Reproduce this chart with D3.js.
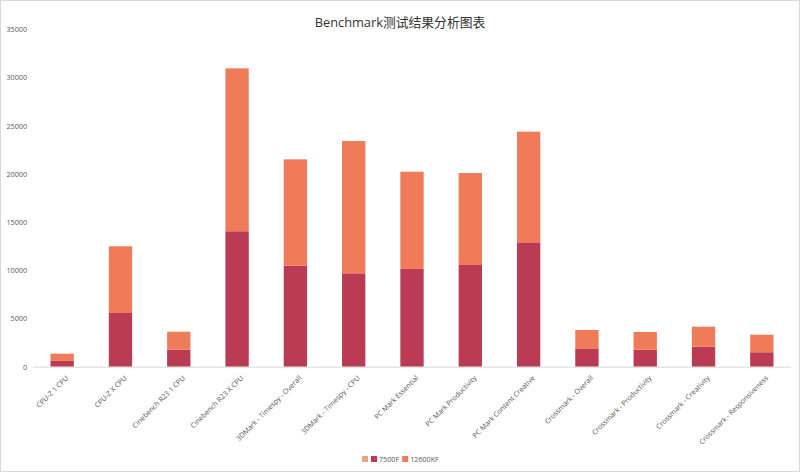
<!DOCTYPE html>
<html><head><meta charset="utf-8">
<script src="https://cdn.jsdelivr.net/npm/d3@7"></script>
<style>body{margin:0;background:#fff;font-family:"Open Sans","Noto Sans CJK SC",sans-serif;}</style>
</head><body><svg id="c" width="800" height="472"></svg>
<script>
const categories = ["CPU-Z 1 CPU","CPU-Z X CPU","Cinebench R23 1 CPU","Cinebench R23 X CPU","3DMark - Timespy - Overall","3DMark - Timespy - CPU","PC Mark Essential","PC Mark Productivity","PC Mark Content Creative","Crossmark - Overall","Crossmark - Productivity","Crossmark - Creativity","Crossmark - Responsiveness"];
const s7500F = [600,5570,1760,14050,10480,9690,10140,10550,12900,1840,1770,2080,1500];
const s12600KF = [750,6920,1870,16900,11030,13720,10090,9540,11480,1970,1830,2070,1820];
const yTicks = [0,5000,10000,15000,20000,25000,30000,35000];
const seriesNames = ["7500F","12600KF"];
const colors = ["#BA3B53","#EF7B59"];
const FONT = "'Open Sans',sans-serif";

const svg = d3.select("#c");
svg.append("rect").attr("x",0.5).attr("y",0.5).attr("width",799).attr("height",471).attr("fill","#fff").attr("stroke","#d9d9d9");

const x = d3.scaleBand().domain(categories).range([33,791]).paddingInner(0.6).paddingOuter(0.3);
const y = d3.scaleLinear().domain([0,35000]).range([366.7,29.3]);

svg.append("text").attr("x",400).attr("y",27).attr("text-anchor","middle").attr("font-size",12.8).attr("fill","#333")
  .attr("font-family","'Open Sans','Noto Sans CJK SC',sans-serif")
  .text("Benchmark测试结果分析图表");

const ya = svg.append("g").attr("transform","translate(27,0)").call(d3.axisLeft(y).tickValues(yTicks).tickSize(0).tickPadding(0).tickFormat(d3.format("d")));
ya.select(".domain").remove();
ya.selectAll("text").attr("font-size",7.2).attr("fill","#595959").attr("font-family",FONT);

const data = categories.map((c,i)=>({cat:c,"7500F":s7500F[i],"12600KF":s12600KF[i]}));
const stack = d3.stack().keys(seriesNames)(data);
svg.append("g").selectAll("g").data(stack).join("g").attr("fill",(d,i)=>colors[i])
  .selectAll("rect").data(d=>d).join("rect")
  .attr("x",d=>x(d.data.cat)).attr("width",x.bandwidth())
  .attr("y",d=>y(d[1])).attr("height",d=>y(d[0])-y(d[1]));

const xa = svg.append("g").attr("transform","translate(0,366.7)").call(d3.axisBottom(x).tickSize(0).tickPadding(0));
xa.select(".domain").attr("stroke","#d9d9d9").attr("d","M33,0.5H791");
xa.selectAll("text").attr("font-size",7.1).attr("fill","#595959").attr("font-family",FONT)
  .attr("text-anchor","end").attr("x",0).attr("y",0).attr("dy","0.35em").attr("transform","translate(5,10) rotate(-45)");

const lg = svg.append("g").attr("font-size",7.2).attr("fill","#595959").attr("font-family",FONT);
lg.append("rect").attr("x",362).attr("y",456).attr("width",6).attr("height",6).attr("fill","#F0A487");
let lx = 371;
seriesNames.forEach((name,i)=>{
  lg.append("rect").attr("x",lx).attr("y",456).attr("width",6).attr("height",6).attr("fill",colors[i]);
  const t = lg.append("text").attr("x",lx+8).attr("y",461.8).text(name);
  lx += 8 + t.node().getComputedTextLength() + 3;
});
</script></body></html>
